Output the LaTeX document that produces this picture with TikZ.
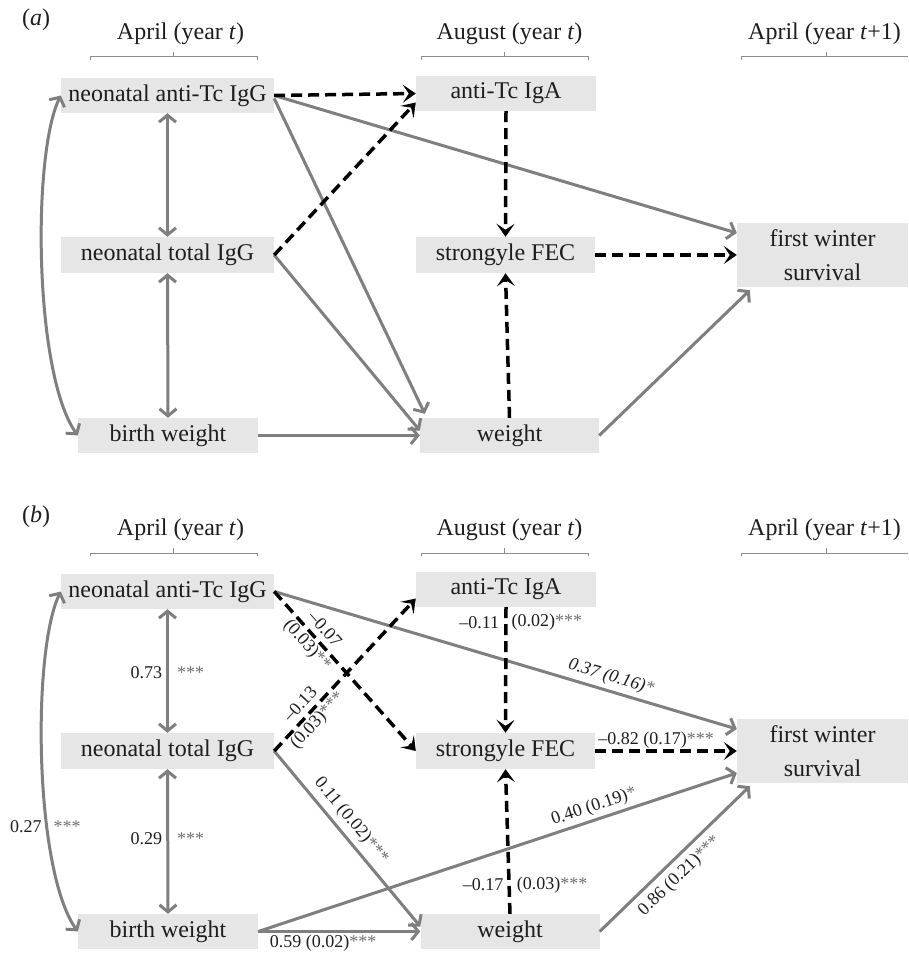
\documentclass[tikz,border=0pt]{standalone}
\usepackage{fontspec}
\setmainfont{Liberation Serif}
\usetikzlibrary{arrows.meta}
\definecolor{boxgray}{HTML}{E6E6E6}
\definecolor{linegray}{HTML}{7F7F7F}
\definecolor{brgray}{HTML}{8C8C8C}
\definecolor{stargray}{HTML}{6E6E6E}
\definecolor{txt}{HTML}{1E1E1E}
\newcommand{\mystar}[1]{\textcolor{stargray}{#1}}
\begin{document}
\begin{tikzpicture}[x=1pt,y=-1pt,
 box/.style={fill=boxgray, inner sep=0pt, text=txt, font=\fontsize{24}{28}\selectfont, align=center},
 twoline/.style={font=\fontsize{24}{34}\selectfont},
 hdr/.style={text=txt, font=\fontsize{24}{28}\selectfont, inner sep=0pt},
 lbl/.style={text=txt, font=\fontsize{18}{21}\selectfont, inner sep=1pt},
 garr/.style={draw=linegray, line width=3pt, -{Straight Barb[length=7pt,width=17pt]}},
 gdbl/.style={draw=linegray, line width=3pt, {Straight Barb[length=7pt,width=17pt]}-{Straight Barb[length=7pt,width=17pt]}},
 darr/.style={draw=black, line width=3.5pt, dash pattern=on 11pt off 6pt, -{Stealth[length=13pt,width=18pt,inset=6pt]}},
 brk/.style={draw=brgray, line width=1pt},
]
\fill[white] (0,0) rectangle (908,955);
\useasboundingbox (0,0) rectangle (908,955);

% ---------------- panel (a) ----------------
\node[hdr] (pa) at (36,20) {(\textit{a})};
\node[hdr] (ha1) at (180.5,34) {April (year \textit{t})};
\node[hdr] (ha2) at (509.5,34) {August (year \textit{t})};
\node[hdr] (ha3) at (824.5,34) {April (year \textit{t}+1)};
\draw[brk] (90,60) -- (90,57) -- (257,57) -- (257,60);
\draw[brk] (173.5,57) -- (173.5,52);
\draw[brk] (421,60) -- (421,57) -- (588,57) -- (588,60);
\draw[brk] (504.5,57) -- (504.5,52);
\draw[brk] (741,60) -- (741,57) -- (908,57);
\draw[brk] (826,57) -- (826,52);

\node[box, minimum width=213pt, minimum height=35pt] (nA) at (167.5,95.5) {neonatal anti-Tc IgG};
\node[box, minimum width=213pt, minimum height=36pt] (nT) at (167.5,255) {neonatal total IgG};
\node[box, minimum width=180pt, minimum height=35pt] (bw) at (168,435.5) {birth weight};
\node[box, minimum width=180pt, minimum height=35pt] (iga) at (506,93.5) {anti-Tc IgA};
\node[box, minimum width=179pt, minimum height=36pt] (fec) at (505.5,255) {strongyle FEC};
\node[box, minimum width=179pt, minimum height=35pt] (wt) at (509.5,435.5) {weight};
\node[box, twoline, minimum width=171pt, minimum height=64pt] (fws) at (822.5,255) {first winter\\survival};

\draw[garr] (nA.east) -- ([yshift=22pt]fws.west);
\draw[garr] ([yshift=-3pt]nA.east) -- ([xshift=5pt,yshift=4pt]wt.north west);
\draw[garr] (nT.east) -- ([yshift=5pt]wt.west);
\draw[garr] (bw.east) -- (wt.west);
\draw[garr] (wt.east) -- ([xshift=13pt,yshift=-3pt]fws.south west);
\draw[gdbl] (nA.south) -- (nT.north);
\draw[gdbl] (nT.south) -- (bw.north);
\draw[gdbl] (bw.west) .. controls (34,374) and (32,154) .. (nA.west);
\draw[darr] (nA.east) -- (iga.west);
\draw[darr] (nT.east) -- ([yshift=-9pt]iga.west);
\draw[darr] (iga.south) -- (fec.north);
\draw[darr] (wt.north) -- (fec.south);
\draw[darr] (fec.east) -- (fws.west);

% ---------------- panel (b) ----------------
\node[hdr] (pb) at (36,517) {(\textit{b})};
\node[hdr] (hb1) at (180.5,530) {April (year \textit{t})};
\node[hdr] (hb2) at (509.5,530) {August (year \textit{t})};
\node[hdr] (hb3) at (824.5,530) {April (year \textit{t}+1)};
\draw[brk] (90,556) -- (90,553) -- (257,553) -- (257,556);
\draw[brk] (173.5,553) -- (173.5,548);
\draw[brk] (421,556) -- (421,553) -- (588,553) -- (588,556);
\draw[brk] (504.5,553) -- (504.5,548);
\draw[brk] (741,556) -- (741,553) -- (908,553);
\draw[brk] (826,553) -- (826,548);

\node[box, minimum width=213pt, minimum height=35pt] (nAb) at (167.5,591.5) {neonatal anti-Tc IgG};
\node[box, minimum width=213pt, minimum height=36pt] (nTb) at (167.5,751) {neonatal total IgG};
\node[box, minimum width=180pt, minimum height=35pt] (bwb) at (168,931.5) {birth weight};
\node[box, minimum width=180pt, minimum height=35pt] (igab) at (506,589.5) {anti-Tc IgA};
\node[box, minimum width=179pt, minimum height=36pt] (fecb) at (505.5,751) {strongyle FEC};
\node[box, minimum width=179pt, minimum height=35pt] (wtb) at (510,931.5) {weight};
\node[box, twoline, minimum width=171pt, minimum height=64pt] (fwsb) at (822.5,751) {first winter\\survival};

\draw[garr] (nAb.east) -- node[lbl, sloped, above=3pt, pos=0.72, font=\fontsize{18}{21}\selectfont\itshape]{0.37 (0.16)\mystar{*}} ([yshift=22pt]fwsb.west);
\draw[garr] (nTb.east) -- node[lbl, sloped, above=4pt, pos=0.45]{0.11 (0.02)\mystar{***}} ([yshift=5pt]wtb.west);
\draw[garr] (bwb.east) -- node[lbl, below=1pt, pos=0.4]{0.59 (0.02)\mystar{***}} (wtb.west);
\draw[garr] (bwb.east) -- node[lbl, sloped, above=2pt, pos=0.71]{0.40 (0.19)\mystar{*}} ([yshift=-22pt]fwsb.west);
\draw[garr] (wtb.east) -- node[lbl, sloped, below=5pt, pos=0.46]{0.86 (0.21)\mystar{***}} ([xshift=13pt,yshift=-3pt]fwsb.south west);
\draw[gdbl] (nAb.south) -- node[lbl, pos=0.51, left=3pt]{0.73} node[lbl, pos=0.51, right=7pt]{\mystar{***}} (nTb.north);
\draw[gdbl] (nTb.south) -- node[lbl, pos=0.48, left=3pt]{0.29} node[lbl, pos=0.48, right=7pt]{\mystar{***}} (bwb.north);
\draw[gdbl] (bwb.west) .. controls (34,870) and (32,650) .. node[lbl, pos=0.34, left=3pt]{0.27} node[lbl, pos=0.34, right=4pt]{\mystar{***}} (nAb.west);
\draw[darr] (nAb.east) -- node[lbl, sloped, pos=0.29, align=center]{\textendash0.07\\[2pt](0.03)\mystar{**}} (fecb.west);
\draw[darr] (nTb.east) -- node[lbl, sloped, pos=0.25, align=center]{\textendash0.13\\[2pt](0.03)\mystar{***}} ([yshift=-9pt]igab.west);
\draw[darr] (igab.south) -- node[lbl, pos=0.12, left=4pt]{\textendash0.11} node[lbl, pos=0.12, right=3pt]{(0.02)\mystar{***}} (fecb.north);
\draw[darr] (wtb.north) -- node[lbl, pos=0.2, left=3pt]{\textendash0.17} node[lbl, pos=0.2, right=5pt]{(0.03)\mystar{***}} (fecb.south);
\draw[darr] (fecb.east) -- node[lbl, above=0pt, pos=0.43]{\textendash0.82 (0.17)\mystar{***}} (fwsb.west);
\end{tikzpicture}
\end{document}
